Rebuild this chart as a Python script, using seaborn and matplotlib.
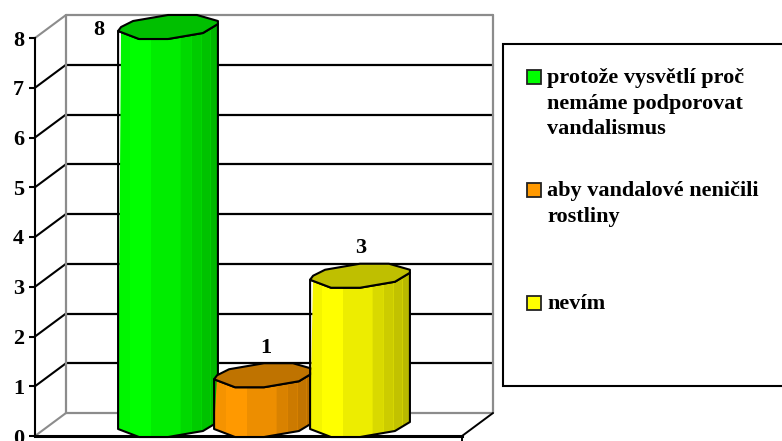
import matplotlib
matplotlib.use("Agg")
import matplotlib.pyplot as plt
import seaborn as sns
import pandas as pd
from matplotlib.patches import Polygon, Rectangle

# Survey answers and counts
categories = ["protože vysvětlí proč\nnemáme podporovat\nvandalismus",
              "aby vandalové neničili\nrostliny",
              "nevím"]
values = [8, 1, 3]
colors = ["#00ff00", "#ff9900", "#ffff00"]
y_ticks = [0, 1, 2, 3, 4, 5, 6, 7, 8]

W, H = 782, 441
sns.set_style("white")
plt.rcParams["font.family"] = ["Liberation Serif", "DejaVu Serif"]
plt.rcParams["font.weight"] = "bold"

fig = plt.figure(figsize=(W / 100, H / 100), dpi=100)
AX_L, AX_R, AX_B, AX_T = 35, 462, 436, 38
ax = fig.add_axes([AX_L / W, (H - AX_B) / H, (AX_R - AX_L) / W, (AX_B - AX_T) / H])

df = pd.DataFrame({"answer": categories, "count": values})
sns.barplot(data=df, x="answer", y="count", hue="answer", palette=colors,
            order=categories, hue_order=categories, width=1.04, dodge=False,
            legend=False, ax=ax)

# One category step spans 96 px on screen
PX_X = 96
xmin = (AX_L - 168) / PX_X
xmax = xmin + (AX_R - AX_L) / PX_X
ax.set_xlim(xmin, xmax)
ax.set_ylim(0, 8)
PX_Y = (AX_B - AX_T) / 8
to_dx = lambda px: px / PX_X
to_dy = lambda px: px / PX_Y

# Perspective depth of the 3D box
DX, DY = to_dx(31), to_dy(23)
GRAY = "#8c8c8c"
line_kw = dict(clip_on=False, solid_capstyle="round")

# Gridlines on the back wall and the receding lines on the side wall
for v in y_ticks:
    edge = v in (y_ticks[0], y_ticks[-1])
    c = GRAY if edge else "black"
    ax.plot([xmin, xmin + DX], [v, v + DY], color=c, lw=1.5, zorder=1, **line_kw)
    ax.plot([xmin + DX, xmax + DX], [v + DY, v + DY], color=c, lw=1.6, zorder=1, **line_kw)
ax.plot([xmin + DX, xmin + DX], [DY, 8 + DY], color=GRAY, lw=1.6, zorder=1.1, **line_kw)
ax.plot([xmax + DX, xmax + DX], [DY, 8 + DY], color=GRAY, lw=1.6, zorder=1.1, **line_kw)
ax.plot([xmax, xmax + DX], [0, DY], color="black", lw=1.4, zorder=1.2, **line_kw)

# Faceted cylinder outline: (fraction of width, vertical offset in px)
TOP_BACK = [(0, 7), (.03, 11), (.15, 17), (.5, 23), (.79, 23), (1, 17), (1, 14)]
FRONT = [(0, 7), (.21, -1), (.5, -1), (.85, 5), (1, 14)]
BANDS = [(0, .12, .96), (.12, .33, 1.0), (.33, .62, .93), (.62, .73, .85),
         (.73, .83, .80), (.83, .92, .76), (.92, 1.0, .72)]


def shade(hex_color, f):
    r, g, b = matplotlib.colors.to_rgb(hex_color)
    return (r * f, g * f, b * f)


bars = list(ax.patches)
for i, (bar, val, col) in enumerate(zip(bars, values, colors)):
    x0, w = bar.get_x(), bar.get_width()
    bar.set_visible(False)
    z = 3 + i
    pt = lambda p, base: (x0 + p[0] * w, base + to_dy(p[1]))
    front_top = [pt(p, val) for p in FRONT]
    front_bot = [pt(p, 0) for p in FRONT]
    back_top = [pt(p, val) for p in TOP_BACK]
    silhouette = front_bot + back_top[::-1][:-1]
    body_clip = Polygon(silhouette, closed=True, transform=ax.transData)
    for a, b, f in BANDS:
        strip = Rectangle((x0 + a * w, -1), (b - a) * w + .002, val + 2,
                          fc=shade(col, f), ec="none", zorder=z)
        ax.add_patch(strip)
        strip.set_clip_box(None)
        strip.set_clip_path(body_clip)
        # Pale seam between facets on the shaded side
        if a >= .62:
            seam = ax.plot([x0 + a * w] * 2, [-1, val + 1], color=shade(col, 1.0),
                           alpha=.35, lw=.7, zorder=z + .1)[0]
            seam.set_clip_box(None)
            seam.set_clip_path(body_clip)
    ax.add_patch(Polygon(front_bot + front_top[::-1], closed=True, fc="none",
                         ec="black", lw=1.5, zorder=z + .2, clip_on=False, joinstyle="round"))
    ax.add_patch(Polygon(back_top + front_top[::-1][1:-1], closed=True, fc=shade(col, .75),
                         ec="black", lw=1.5, zorder=z + .3, clip_on=False, joinstyle="round"))

# Value labels above the columns
label_offsets = [(-69, 8), (2, 38), (1, 39)]
for i, (val, off) in enumerate(zip(values, label_offsets)):
    ax.annotate(str(val), (i, val), xytext=(off[0] * .72, off[1] * .72),
                textcoords="offset points", ha="center", va="center",
                fontsize=16, fontweight="bold", color="black", zorder=10,
                annotation_clip=False)

# Axes
ax.set_xlabel("")
ax.set_ylabel("")
ax.set_xticks([xmax])
ax.set_xticklabels([""])
ax.set_yticks(y_ticks)
ax.set_yticklabels([str(v) for v in y_ticks], fontsize=16, fontweight="bold", color="black")
ax.tick_params(axis="y", length=4.3, width=1.5, color="black", pad=3.6, left=True)
ax.tick_params(axis="x", length=4.3, width=1.4, color="black", bottom=True)
for s in ("top", "right"):
    ax.spines[s].set_visible(False)
ax.spines["left"].set_color("black")
ax.spines["left"].set_linewidth(1.5)
ax.spines["bottom"].set_color("black")
ax.spines["bottom"].set_linewidth(2.2)
ax.spines["bottom"].set_zorder(2.5)
ax.patch.set_alpha(0)

# Legend panel
fig_px = lambda x, y: (x / W, 1 - y / H)
bx, by = fig_px(503, 386)
fig.add_artist(Rectangle((bx, by), (W + 10 - 503) / W, (386 - 44) / H, fc="white", ec="black",
                         lw=1.5, transform=fig.transFigure))
legend_y = [77, 190, 303]
LINE = 25.7
for name, col, y in zip(categories, colors, legend_y):
    sx, sy = fig_px(527, y + 7)
    fig.add_artist(Rectangle((sx, sy), 14 / W, 14 / H, fc=col, ec="#222222", lw=1.3,
                             transform=fig.transFigure))
    for j, line in enumerate(name.split("\n")):
        tx, ty = fig_px(547, y + 1 + j * LINE)
        fig.text(tx, ty, line, fontsize=16, fontweight="bold", color="black",
                 ha="left", va="center")

fig.savefig("out.png", dpi=100, facecolor="white")
